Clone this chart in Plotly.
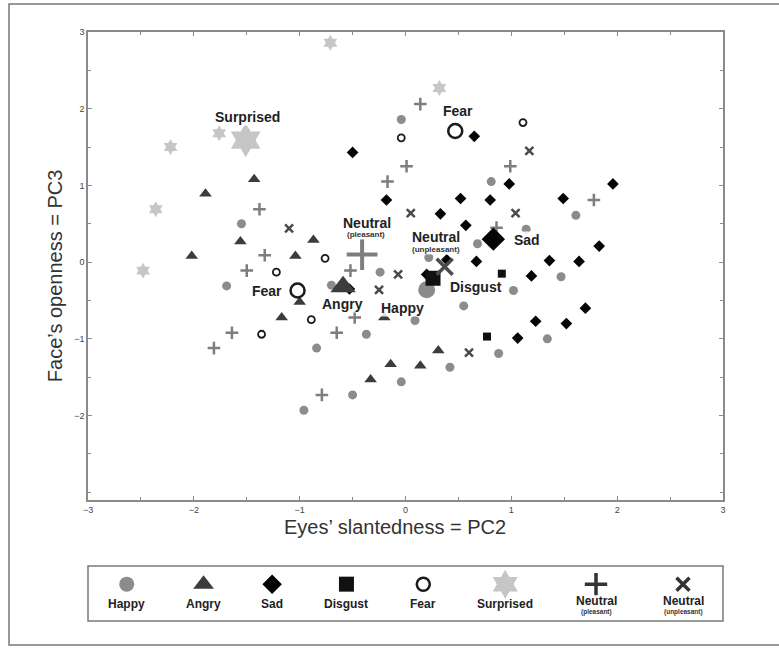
import plotly.graph_objects as go

# ---------------- data ----------------
happy_x = [-0.04, 0.81, 1.61, -1.55, 1.14, 0.68, 0.22, -0.24, -0.70, -1.69, 1.02, 1.47, 0.55, 0.09, -0.37, -0.84, 1.34, 0.88, 0.42, -0.04, -0.50, -0.96]
happy_y = [1.86, 1.05, 0.61, 0.50, 0.43, 0.24, 0.06, -0.13, -0.30, -0.31, -0.37, -0.19, -0.57, -0.76, -0.94, -1.12, -1.00, -1.19, -1.37, -1.56, -1.73, -1.93]

angry_x = [-1.43, -1.89, -1.56, -2.02, -1.04, -0.87, -1.00, -1.17, -0.20, 0.31, 0.14, -0.14, -0.33]
angry_y = [1.08, 0.89, 0.27, 0.08, 0.08, 0.29, -0.52, -0.72, -0.72, -1.15, -1.35, -1.33, -1.53]

sad_x = [-0.50, 0.65, 0.98, 1.96, -0.18, 0.52, 0.80, 1.49, 0.33, 0.57, 1.83, 0.39, 0.67, 1.36, 1.64, 1.19, 1.70, 1.23, 1.52, 1.06, -0.53, 0.20]
sad_y = [1.43, 1.64, 1.02, 1.02, 0.81, 0.83, 0.81, 0.83, 0.63, 0.48, 0.21, 0.03, 0.01, 0.02, 0.01, -0.18, -0.60, -0.77, -0.80, -0.99, -0.35, -0.16]

disgust_x = [0.91, 0.77]
disgust_y = [-0.15, -0.97]

fear_x = [1.11, -0.04, -0.76, -1.22, -0.89, -1.36]
fear_y = [1.82, 1.62, 0.05, -0.13, -0.75, -0.94]

surprised_x = [-0.71, 0.32, -1.76, -2.22, -2.36, -2.48]
surprised_y = [2.86, 2.27, 1.68, 1.50, 0.69, -0.11]

neutral_p_x = [0.14, 0.01, -0.17, 0.99, 1.78, -1.38, -1.33, -1.50, -0.52, 0.86, -0.48, -0.65, -1.64, -1.81, -0.79]
neutral_p_y = [2.06, 1.25, 1.05, 1.25, 0.81, 0.69, 0.09, -0.11, -0.11, 0.45, -0.72, -0.92, -0.92, -1.12, -1.73]

neutral_u_x = [-1.10, 0.05, 1.04, 1.17, -0.07, -0.25, 0.60]
neutral_u_y = [0.44, 0.64, 0.64, 1.45, -0.16, -0.36, -1.18]

# centroids (large markers)
centroid_names = ["Happy", "Angry", "Sad", "Disgust", "Fear", "Fear", "Surprised", "Neutral (pleasant)", "Neutral (unpleasant)"]
centroid_x = [0.20, -0.59, 0.83, 0.26, 0.47, -1.02, -1.51, -0.41, 0.37]
centroid_y = [-0.36, -0.32, 0.30, -0.21, 1.71, -0.37, 1.59, 0.10, -0.06]

# centroid label texts and their anchor points
label_texts = ["Happy", "Angry", "Sad", "Disgust", "Fear", "Fear", "Surprised", "Neutral", "Neutral"]
label_x = [-0.03, -0.60, 1.145, 0.67, 0.50, -1.31, -1.495, -0.36, 0.285]
label_y = [-0.60, -0.545, 0.29, -0.32, 1.97, -0.375, 1.895, 0.51, 0.33]
sublabel_texts = ["(pleasant)", "(unpleasant)"]
sublabel_x = [-0.37, 0.285]
sublabel_y = [0.355, 0.17]

x_ticks = [-3, -2, -1, 0, 1, 2, 3]
y_ticks = [-2, -1, 0, 1, 2, 3]
minor_ticks = [-3, -2.5, -2, -1.5, -1, -0.5, 0, 0.5, 1, 1.5, 2, 2.5, 3]

legend_names = ["Happy", "Angry", "Sad", "Disgust", "Fear", "Surprised", "Neutral", "Neutral"]
legend_subs = ["", "", "", "", "", "", "(pleasant)", "(unpleasant)"]
legend_slots = [0.061, 0.182, 0.290, 0.407, 0.528, 0.657, 0.800, 0.937]

# ---------------- styles ----------------
C_HAPPY = "#8c8c8c"
C_ANGRY = "#3c3c3c"
C_SAD = "#050505"
C_DISG = "#111111"
C_FEAR = "#1a1a1a"
C_SURP = "#c6c6c6"
C_NP = "#7e7e7e"
C_NU = "#4a4a4a"

FONT = "Liberation Sans, Arial, sans-serif"

fig = go.Figure()


def pts(x, y, symbol, size, color, line_w=0, line_c=None, xa="x", ya="y"):
    m = dict(symbol=symbol, size=size, color=color)
    m["line"] = dict(width=line_w, color=line_c if line_c else color)
    fig.add_trace(go.Scatter(x=x, y=y, mode="markers", marker=m, showlegend=False,
                             hoverinfo="skip", xaxis=xa, yaxis=ya))


# small points
pts(happy_x, happy_y, "circle", 9, C_HAPPY)
pts(angry_x, angry_y, "triangle-up", 11, C_ANGRY)
pts(sad_x, sad_y, "diamond", 9, C_SAD)
pts(disgust_x, disgust_y, "square", 8, C_DISG)
pts(fear_x, fear_y, "circle-open", 7, C_FEAR, 1.8, C_FEAR)
pts(surprised_x, surprised_y, "hexagram", 12, C_SURP)
pts(neutral_p_x, neutral_p_y, "cross-thin", 9, C_NP, 2.5, C_NP)
pts(neutral_u_x, neutral_u_y, "x-thin", 8, C_NU, 2.5, C_NU)

# centroids
cx, cy = centroid_x, centroid_y
pts([cx[0]], [cy[0]], "circle", 17, C_HAPPY)
pts([cx[1]], [cy[1]], "triangle-up", 22, C_ANGRY)
pts([cx[2]], [cy[2]], "diamond", 18, C_SAD)
pts([cx[4], cx[5]], [cy[4], cy[5]], "circle-open", 14, C_FEAR, 2.5, C_FEAR)
pts([cx[6]], [cy[6]], "hexagram", 26, C_SURP)
pts([cx[7]], [cy[7]], "cross-thin", 22, C_NP, 4, C_NP)
pts([cx[3]], [cy[3]], "square", 15, C_DISG)
pts([cx[8]], [cy[8]], "x-thin", 16, C_NU, 3.5, C_NU)

# centroid labels
annotations = []
for t, lx, ly in zip(label_texts, label_x, label_y):
    annotations.append(dict(x=lx, y=ly, xref="x", yref="y", text="<b>%s</b>" % t,
                            showarrow=False, xanchor="center", yanchor="middle",
                            font=dict(family=FONT, size=14, color="#222222"),
                            bgcolor="rgba(255,255,255,0.85)", borderpad=0))
for t, lx, ly in zip(sublabel_texts, sublabel_x, sublabel_y):
    annotations.append(dict(x=lx, y=ly, xref="x", yref="y", text="<b>%s</b>" % t,
                            showarrow=False, xanchor="center", yanchor="middle",
                            font=dict(family=FONT, size=8, color="#333333"),
                            bgcolor="rgba(255,255,255,0.85)", borderpad=0))

# legend markers on a second, hidden axis pair
leg_y = 0.67
pts([legend_slots[0]], [leg_y], "circle", 15, C_HAPPY, xa="x2", ya="y2")
pts([legend_slots[1]], [leg_y], "triangle-up", 18, C_ANGRY, xa="x2", ya="y2")
pts([legend_slots[2]], [leg_y], "diamond", 15, C_SAD, xa="x2", ya="y2")
pts([legend_slots[3]], [leg_y], "square", 15, C_DISG, xa="x2", ya="y2")
pts([legend_slots[4]], [leg_y], "circle-open", 13, C_FEAR, 2.5, C_FEAR, xa="x2", ya="y2")
pts([legend_slots[5]], [leg_y], "hexagram", 22, C_SURP, xa="x2", ya="y2")
pts([legend_slots[6]], [leg_y], "cross-thin", 16, C_NP, 3.5, "#333333", xa="x2", ya="y2")
pts([legend_slots[7]], [leg_y], "x-thin", 13, C_NU, 3.5, "#333333", xa="x2", ya="y2")

for name, sub, sx in zip(legend_names, legend_subs, legend_slots):
    yy = 0.36 if sub else 0.31
    annotations.append(dict(x=sx, y=yy, xref="x2", yref="y2", text="<b>%s</b>" % name,
                            showarrow=False, xanchor="center", yanchor="middle",
                            font=dict(family=FONT, size=12, color="#222222")))
    if sub:
        annotations.append(dict(x=sx, y=0.16, xref="x2", yref="y2", text="<b>%s</b>" % sub,
                                showarrow=False, xanchor="center", yanchor="middle",
                                font=dict(family=FONT, size=6.5, color="#333333")))

# axis titles
annotations.append(dict(x=0.4835, y=0.1695, xref="paper", yref="paper",
                        text="Eyes’ slantedness = PC2", showarrow=False,
                        xanchor="center", yanchor="middle",
                        font=dict(family=FONT, size=20, color="#333333")))
annotations.append(dict(x=-0.052, y=0.592, xref="paper", yref="paper",
                        text="Face’s openness = PC3", showarrow=False, textangle=-90,
                        xanchor="center", yanchor="middle",
                        font=dict(family=FONT, size=20, color="#333333")))

shapes = [
    # legend frame
    dict(type="rect", xref="x2 domain", yref="y2 domain", x0=0, x1=1, y0=0, y1=1,
         line=dict(color="#7a7a7a", width=1.5), layer="below"),
    # outer figure frame (right edge runs off the picture)
    dict(type="rect", xref="paper", yref="paper", x0=-0.1244, x1=1.10, y0=-0.0285, y1=1.047,
         line=dict(color="#777777", width=1.5)),
]

axis_common = dict(showgrid=False, zeroline=False, showline=True, linecolor="#8a8a8a",
                   linewidth=1.5, ticks="inside", ticklen=4, tickcolor="#8a8a8a",
                   mirror="allticks", tickfont=dict(family=FONT, size=9, color="#444444"),
                   minor=dict(tickmode="array", tickvals=minor_ticks, ticks="inside",
                              ticklen=3, tickcolor="#8a8a8a"))

fig.update_layout(
    width=779, height=648,
    margin=dict(l=88, r=56, t=32, b=20),
    paper_bgcolor="white", plot_bgcolor="white",
    showlegend=False,
    xaxis=dict(range=[-3, 3], tickmode="array", tickvals=x_ticks, domain=[0, 1],
               anchor="y", **axis_common),
    yaxis=dict(range=[-3.1, 3.0], tickmode="array", tickvals=y_ticks, domain=[0.2148, 1],
               anchor="x", **axis_common),
    xaxis2=dict(range=[0, 1], domain=[0, 1], anchor="y2", visible=False, fixedrange=True),
    yaxis2=dict(range=[0, 1], domain=[0.0117, 0.104], anchor="x2", visible=False, fixedrange=True),
    annotations=annotations,
    shapes=shapes,
)

fig.write_html("out.html")
